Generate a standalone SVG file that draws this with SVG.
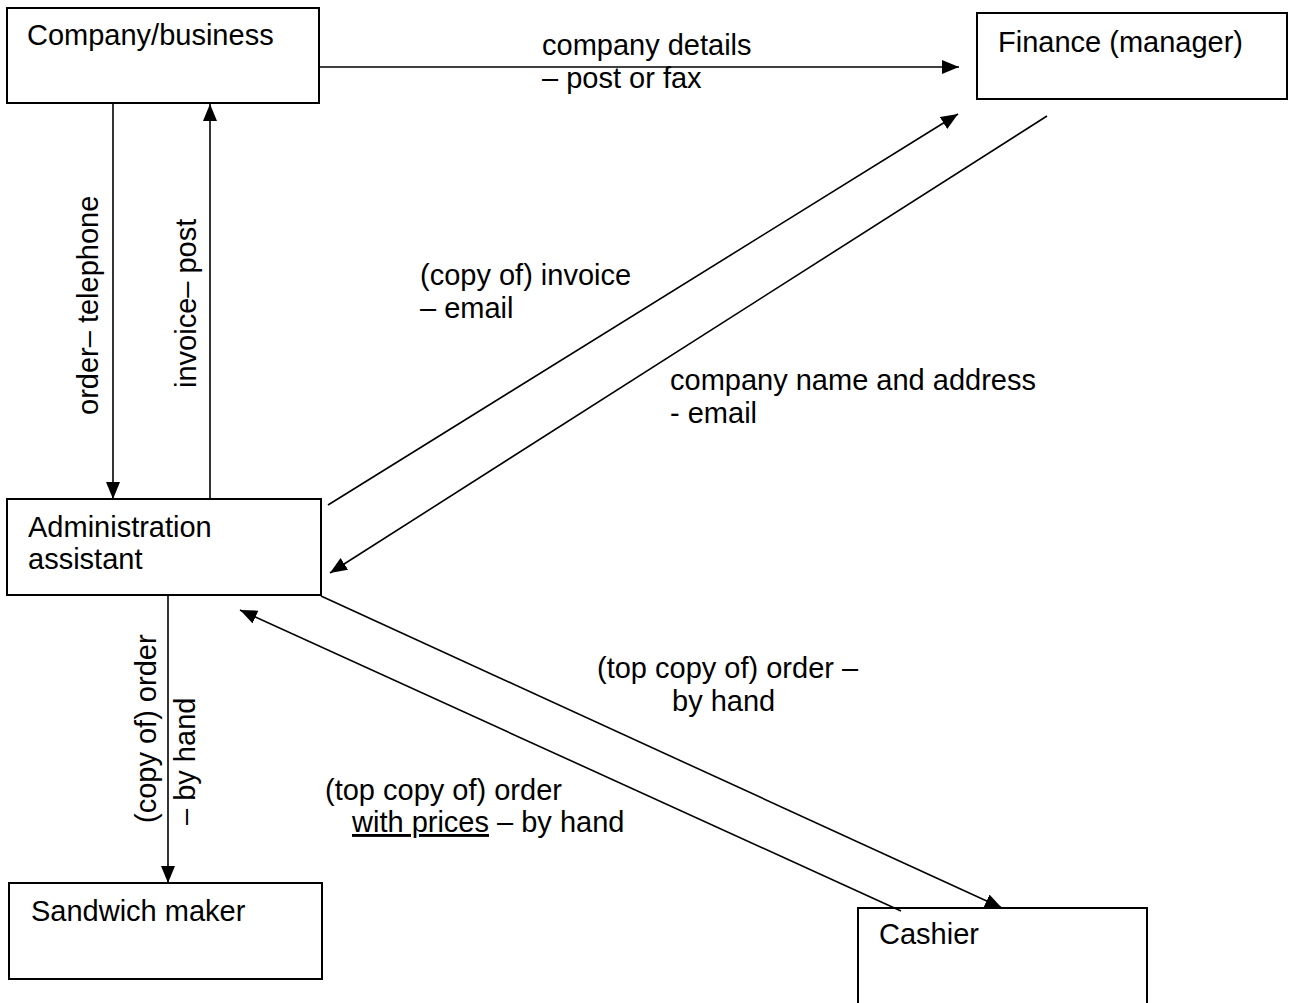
<svg xmlns="http://www.w3.org/2000/svg" width="1292" height="1003" viewBox="0 0 1292 1003">
<style>
.box{fill:#fff;stroke:#000;stroke-width:2}
.t{font-family:"Liberation Sans",Arial,sans-serif;font-size:29px;fill:#000}
.c{stroke:#000;stroke-width:1.6;fill:none}
</style>
<defs>
<marker id="ah" markerUnits="userSpaceOnUse" markerWidth="17" markerHeight="14" refX="17" refY="7" orient="auto">
<path d="M0,0 L17,7 L0,14 z" fill="#000"/>
</marker>
</defs>
<rect width="1292" height="1003" fill="#fff"/>
<g id="company">
<rect class="box" x="7" y="8" width="312" height="95"/>
<text class="t" x="27" y="45">Company/business</text>
</g>
<g id="finance">
<rect class="box" x="977" y="13" width="310" height="86"/>
<text class="t" x="998" y="52">Finance (manager)</text>
</g>
<g id="admin">
<rect class="box" x="7" y="499" width="314" height="96"/>
<text class="t" x="28" y="537">Administration</text>
<text class="t" x="28" y="569">assistant</text>
</g>
<g id="sandwich">
<rect class="box" x="9" y="883" width="313" height="96"/>
<text class="t" x="31" y="921">Sandwich maker</text>
</g>
<g id="cashier">
<rect class="box" x="858" y="908" width="289" height="120"/>
<text class="t" x="879" y="944">Cashier</text>
</g>
<g id="connectors">
<line class="c" x1="319" y1="67" x2="959" y2="67" marker-end="url(#ah)"/>
<line class="c" x1="113" y1="103" x2="113" y2="499" marker-end="url(#ah)"/>
<line class="c" x1="210" y1="499" x2="210" y2="104" marker-end="url(#ah)"/>
<line class="c" x1="328" y1="505" x2="958" y2="114" marker-end="url(#ah)"/>
<line class="c" x1="1047" y1="116" x2="330" y2="573" marker-end="url(#ah)"/>
<line class="c" x1="168" y1="595" x2="168" y2="883" marker-end="url(#ah)"/>
<line class="c" x1="321" y1="596" x2="1002" y2="908" marker-end="url(#ah)"/>
<line class="c" x1="901" y1="911" x2="240" y2="610" marker-end="url(#ah)"/>
</g>
<g id="labels">
<text class="t" x="542" y="55">company details</text>
<text class="t" x="542" y="88">– post or fax</text>
<text class="t" transform="translate(98,415) rotate(-90)">order– telephone</text>
<text class="t" transform="translate(196,388) rotate(-90)">invoice– post</text>
<text class="t" x="420" y="285">(copy of) invoice</text>
<text class="t" x="420" y="318">– email</text>
<text class="t" x="670" y="390">company name and address</text>
<text class="t" x="670" y="423">- email</text>
<text class="t" transform="translate(156,823) rotate(-90)">(copy of) order</text>
<text class="t" transform="translate(195,825) rotate(-90)">– by hand</text>
<text class="t" x="597" y="678">(top copy of) order –</text>
<text class="t" x="672" y="711">by hand</text>
<text class="t" x="325" y="800">(top copy of) order</text>
<text class="t" x="352" y="832"><tspan text-decoration="underline">with prices</tspan> – by hand</text>
</g>
</svg>
